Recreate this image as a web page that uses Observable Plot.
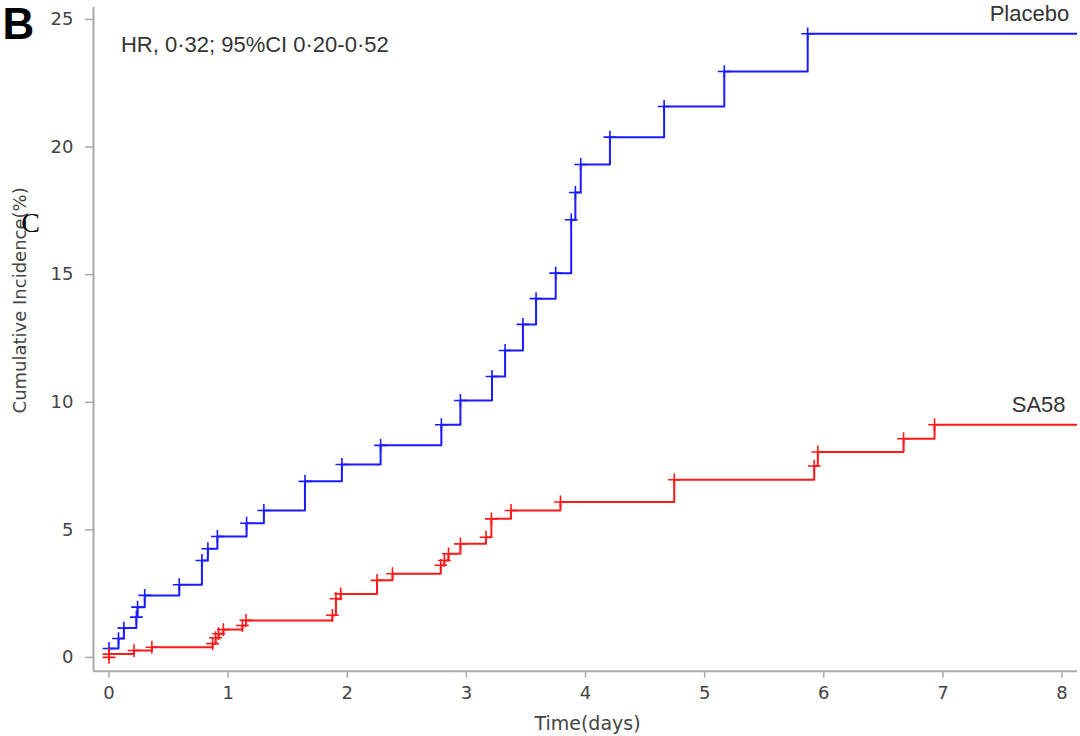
<!DOCTYPE html>
<html>
<head>
<meta charset="utf-8">
<script src="https://cdn.jsdelivr.net/npm/d3@7"></script>
<script src="https://cdn.jsdelivr.net/npm/@observablehq/plot@0.6"></script>
<style>
  html, body { margin: 0; padding: 0; background: #fff; }
  #chart svg { display: block; }
</style>
</head>
<body>
<div id="chart"></div>
<script>
// ---- Data ----
const groups = ["Placebo", "SA58"];
const groupColors = ["#1a1aff", "#ff1a1a"];

const placeboTime = [0, 0.08, 0.125, 0.23, 0.24, 0.30, 0.59, 0.78, 0.83, 0.91, 1.155, 1.30, 1.645, 1.955, 2.28, 2.79, 2.95, 3.215, 3.325, 3.475, 3.585, 3.75, 3.88, 3.915, 3.96, 4.205, 4.66, 5.165, 5.865];
const placeboCI   = [0.35, 0.74, 1.15, 1.58, 1.97, 2.43, 2.85, 3.80, 4.26, 4.74, 5.26, 5.76, 6.90, 7.56, 8.31, 9.12, 10.07, 11.01, 12.03, 13.05, 14.06, 15.06, 17.15, 18.22, 19.32, 20.39, 21.59, 22.96, 24.44];

const sa58Time = [0, 0, 0.21, 0.36, 0.87, 0.895, 0.92, 0.96, 1.12, 1.15, 1.875, 1.905, 1.945, 2.25, 2.38, 2.785, 2.815, 2.85, 2.95, 3.165, 3.21, 3.375, 3.79, 4.745, 5.92, 5.95, 6.67, 6.93];
const sa58CI   = [0, 0.13, 0.27, 0.40, 0.54, 0.77, 0.93, 1.09, 1.25, 1.45, 1.65, 2.30, 2.49, 3.02, 3.28, 3.61, 3.80, 4.06, 4.45, 4.71, 5.43, 5.76, 6.09, 6.96, 7.50, 8.05, 8.57, 9.12];

const followUpEnd = 8.13;

const xTicks = [0, 1, 2, 3, 4, 5, 6, 7, 8];
const yTicks = [0, 5, 10, 15, 20, 25];
const xDomain = [-0.13, 8.13];
const yDomain = [-0.54, 25.47];

const xLabel = "Time(days)";
const yLabel = "Cumulative Incidence(%)";
const hrText = "HR, 0·32; 95%CI 0·20-0·52";
const hrPos = {time: 0.1, ci: 24.0};
const groupLabels = [
  {group: "Placebo", time: 8.06, ci: 25.22},
  {group: "SA58", time: 8.03, ci: 9.91}
];
const panelLetter = "B";
const strayLetter = "C";

// ---- Build tables ----
const events = [];
placeboTime.forEach((t, i) => events.push({group: "Placebo", time: t, ci: placeboCI[i]}));
sa58Time.forEach((t, i) => events.push({group: "SA58", time: t, ci: sa58CI[i]}));

const lineRows = [...events,
  {group: "Placebo", time: followUpEnd, ci: placeboCI[placeboCI.length - 1]},
  {group: "SA58", time: followUpEnd, ci: sa58CI[sa58CI.length - 1]}
];

const chart = Plot.plot({
  width: 1080,
  height: 736,
  marginLeft: 93,
  marginRight: 3,
  marginTop: 7,
  marginBottom: 65.3,
  style: {fontFamily: "DejaVu Sans", fontSize: "18px", color: "#444", background: "#fff"},
  x: {domain: xDomain, label: null},
  y: {domain: yDomain, label: null},
  color: {domain: groups, range: groupColors},
  marks: [
    Plot.ruleX([xDomain[0]], {stroke: "#aaa", strokeWidth: 2}),
    Plot.ruleY([yDomain[0]], {stroke: "#aaa", strokeWidth: 2}),
    Plot.axisX({ticks: xTicks, tickSize: 7, tickPadding: 8, stroke: "#aaa", strokeWidth: 1.5, fill: "#444", fontSize: 18, label: null}),
    Plot.axisY({ticks: yTicks, tickSize: 8, tickPadding: 12, stroke: "#aaa", strokeWidth: 1.5, fill: "#444", fontSize: 18, label: null}),
    Plot.line(lineRows, {x: "time", y: "ci", z: "group", stroke: "group", curve: "step-after", strokeWidth: 2, clip: true}),
    Plot.dot(events, {x: "time", y: "ci", stroke: "group", symbol: "plus", r: 4.2, strokeWidth: 1.6}),
    Plot.text(groupLabels, {x: "time", y: "ci", text: "group", textAnchor: "end", fontFamily: "Liberation Sans", fontSize: 22, fill: "#333"}),
    Plot.text([hrText], {x: () => hrPos.time, y: () => hrPos.ci, text: d => d, textAnchor: "start", fontFamily: "Liberation Sans", fontSize: 22, fill: "#333"}),
    Plot.text([yLabel], {frameAnchor: "left", textAnchor: "middle", lineAnchor: "middle", rotate: -90, dx: -73, dy: -39, text: d => d, fontFamily: "DejaVu Sans", fontSize: 18, fill: "#444"}),
    Plot.text([xLabel], {frameAnchor: "bottom", textAnchor: "middle", lineAnchor: "middle", dx: 2, dy: 53, text: d => d, fontFamily: "DejaVu Sans", fontSize: 19, fill: "#444"}),
    Plot.text([panelLetter], {frameAnchor: "top-left", textAnchor: "middle", lineAnchor: "middle", dx: -75, dy: 17, text: d => d, fontFamily: "Liberation Sans", fontWeight: "bold", fontSize: 44, fill: "#000"}),
    Plot.text([strayLetter], {frameAnchor: "top-left", textAnchor: "middle", lineAnchor: "middle", dx: -63, dy: 216, text: d => d, fontFamily: "Liberation Serif", fontSize: 28, fill: "#000"})
  ]
});

document.getElementById("chart").appendChild(chart);
</script>
</body>
</html>
